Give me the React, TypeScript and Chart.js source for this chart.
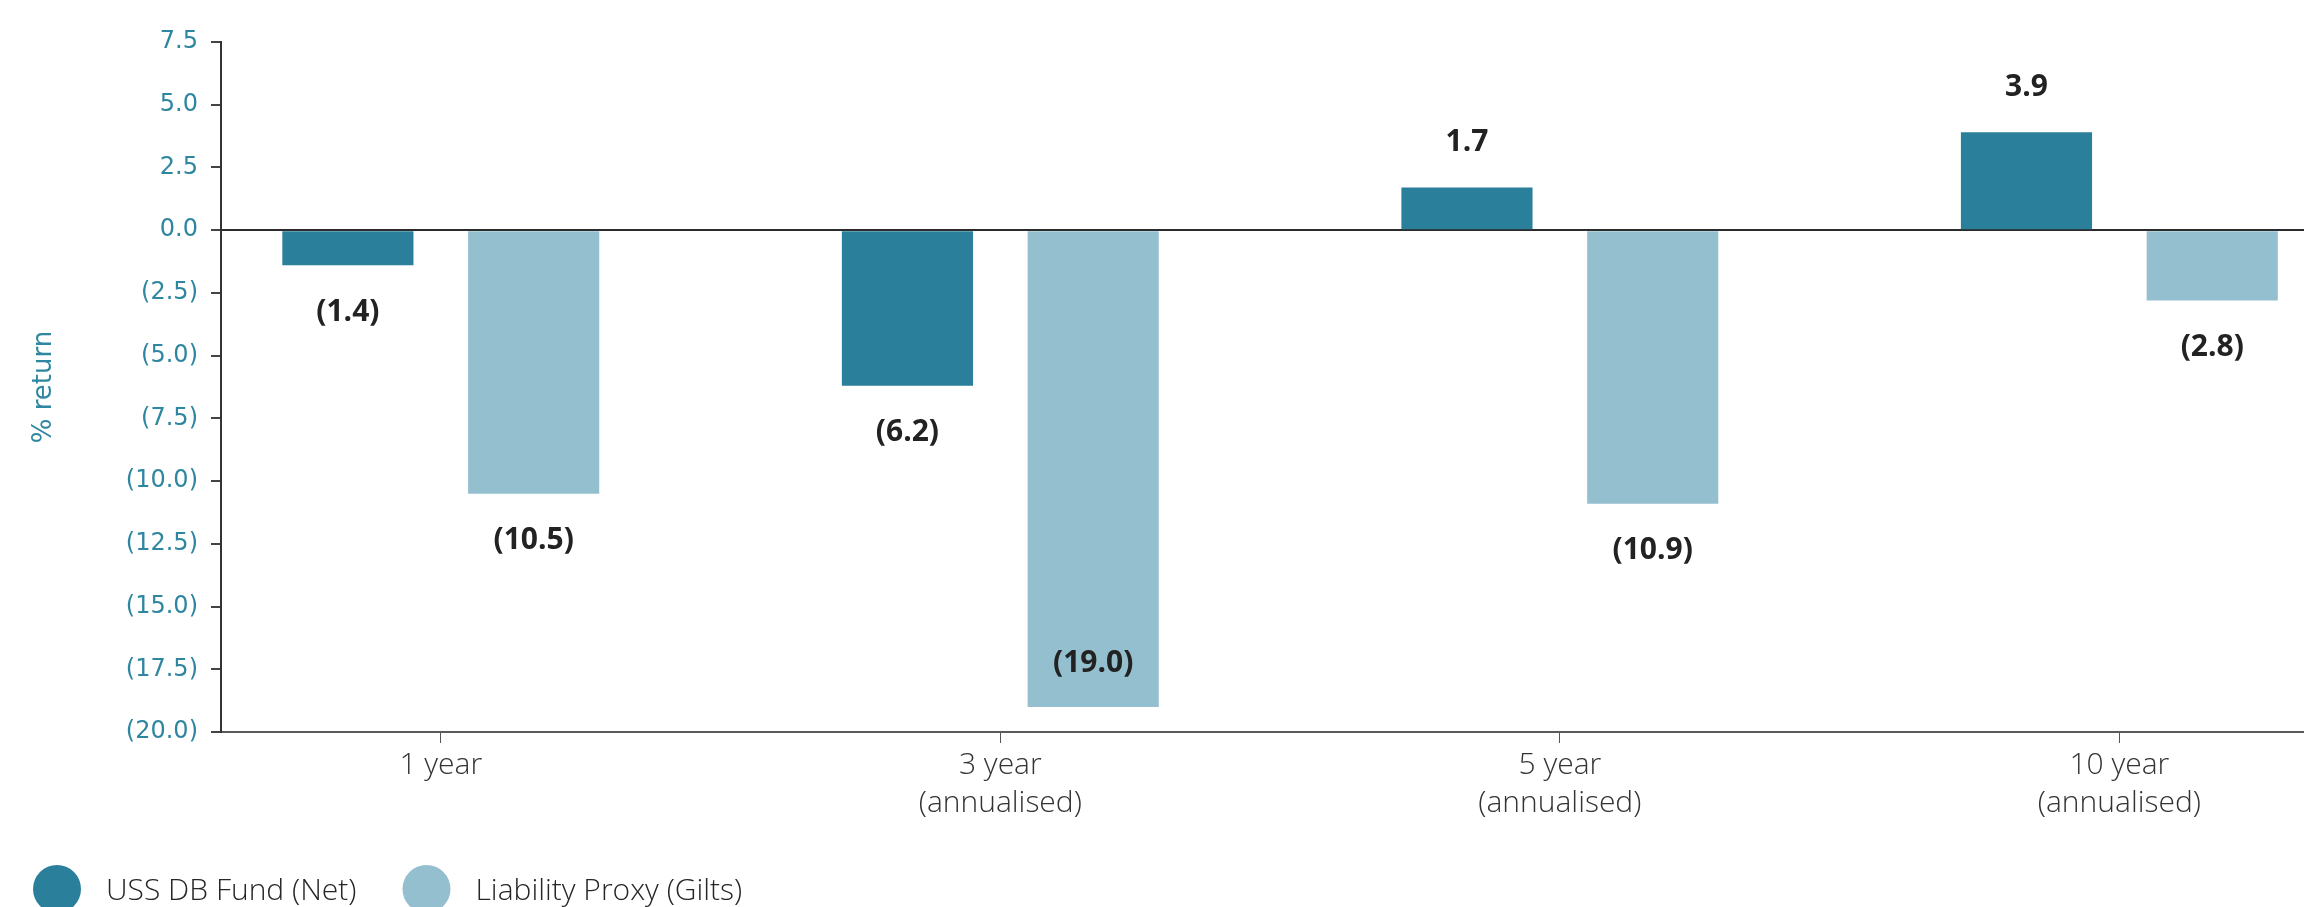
import React, { useEffect, useRef } from "react";
import { Chart, registerables } from "chart.js";

Chart.register(...registerables);

// Return periods shown along the bottom axis
const periods: string[][] = [
  ["1 year"],
  ["3 year", "(annualised)"],
  ["5 year", "(annualised)"],
  ["10 year", "(annualised)"],
];

// % return per period
const fundReturns = [-1.4, -6.2, 1.7, 3.9];
const liabilityReturns = [-10.5, -19.0, -10.9, -2.8];

const seriesNames = ["USS DB Fund (Net)", "Liability Proxy (Gilts)"];
const seriesColors = ["#2a7f9b", "#94bfcf"];

// y-axis range and step
const yMin = -20;
const yMax = 7.5;
const yStep = 2.5;

const TEAL = "#2e86a1";

const fmt = (v: number) => (v < 0 ? `(${Math.abs(v).toFixed(1)})` : v.toFixed(1));

// Bold value labels just beyond the end of each bar (tucked inside when there is no room)
const valueLabels = {
  id: "valueLabels",
  afterDatasetsDraw(chart: any) {
    const ctx = chart.ctx;
    const area = chart.chartArea;
    ctx.save();
    ctx.font = 'bold 30px "Open Sans"';
    ctx.fillStyle = "#222222";
    ctx.textAlign = "center";
    ctx.textBaseline = "middle";
    chart.data.datasets.forEach((ds: any, di: number) => {
      const meta = chart.getDatasetMeta(di);
      meta.data.forEach((bar: any, i: number) => {
        const v = ds.data[i].y;
        let y = v < 0 ? bar.y + 47 : bar.y - 45;
        if (v < 0 && y + 16 > area.bottom) y = bar.y - 43;
        ctx.fillText(fmt(v), bar.x, y);
      });
    });
    ctx.restore();
  },
};

// Legend row with round swatches along the bottom edge
const bottomLegend = {
  id: "bottomLegend",
  afterDraw(chart: any) {
    const ctx = chart.ctx;
    ctx.save();
    ctx.font = '300 30px "Open Sans"';
    ctx.textBaseline = "alphabetic";
    ctx.textAlign = "left";
    let x = 33;
    const cy = chart.height - 18;
    chart.data.datasets.forEach((ds: any) => {
      ctx.fillStyle = ds.backgroundColor;
      ctx.beginPath();
      ctx.arc(x + 24, cy, 24, 0, Math.PI * 2);
      ctx.fill();
      ctx.fillStyle = "#262626";
      ctx.fillText(ds.label, x + 73, chart.height - 7);
      x += 73 + ctx.measureText(ds.label).width + 46;
    });
    ctx.restore();
  },
};

export default function App() {
  const canvasRef = useRef<HTMLCanvasElement | null>(null);

  useEffect(() => {
    if (!canvasRef.current) return;
    const chart = new Chart(canvasRef.current, {
      type: "bar",
      data: {
        datasets: [
          {
            label: seriesNames[0],
            data: fundReturns.map((y, i) => ({ x: i, y })),
            backgroundColor: seriesColors[0],
          },
          {
            label: seriesNames[1],
            data: liabilityReturns.map((y, i) => ({ x: i, y })),
            backgroundColor: seriesColors[1],
          },
        ],
      },
      options: {
        animation: false,
        responsive: true,
        maintainAspectRatio: false,
        layout: { padding: { left: 0, top: 42, right: 0, bottom: 75 } },
        datasets: {
          bar: { categoryPercentage: 0.664, barPercentage: 0.706 },
        },
        plugins: {
          legend: { display: false },
          tooltip: { enabled: false },
        },
        scales: {
          x: {
            type: "linear",
            offset: false,
            min: -0.3928,
            max: 3.33,
            afterBuildTicks: (scale: any) => {
              scale.ticks = periods.map((_, i) => ({ value: i }));
            },
            afterFit: (scale: any) => {
              scale.height = 100;
            },
            grid: {
              offset: false,
              drawOnChartArea: false,
              drawTicks: true,
              tickLength: 11,
              tickColor: "#555555",
              color: "#555555",
            },
            border: { display: true, color: "#5a5a5a", width: 2 },
            ticks: {
              padding: 4,
              color: "#333333",
              font: { family: "Open Sans", size: 30, weight: "300", lineHeight: 1.25 },
              callback: (value: any) => periods[Math.round(Number(value))] ?? "",
              maxRotation: 0,
              autoSkip: false,
            },
          },
          y: {
            min: yMin,
            max: yMax,
            z: 1,
            afterFit: (scale: any) => {
              scale.width = 221;
            },
            grid: {
              drawTicks: true,
              tickLength: 10,
              tickColor: "#444444",
              lineWidth: 2,
              color: (c: any) => (c.tick && c.tick.value === 0 ? "#2b2b2b" : "rgba(0,0,0,0)"),
            },
            border: { display: true, color: "#333333", width: 2 },
            ticks: {
              stepSize: yStep,
              padding: 13,
              color: TEAL,
              font: { family: "DejaVu Sans", size: 24 },
              callback: (value: any) => fmt(Number(value)),
            },
            title: {
              display: true,
              text: "% return",
              color: TEAL,
              font: { family: "DejaVu Sans", size: 26 },
              padding: { top: 29, bottom: 0 },
            },
          },
        },
      },
      plugins: [valueLabels, bottomLegend],
    });
    return () => chart.destroy();
  }, []);

  return (
    <div
      style={{
        position: "fixed",
        left: 0,
        top: 0,
        width: 2304,
        height: 907,
        background: "#ffffff",
      }}
    >
      <canvas ref={canvasRef} />
    </div>
  );
}
